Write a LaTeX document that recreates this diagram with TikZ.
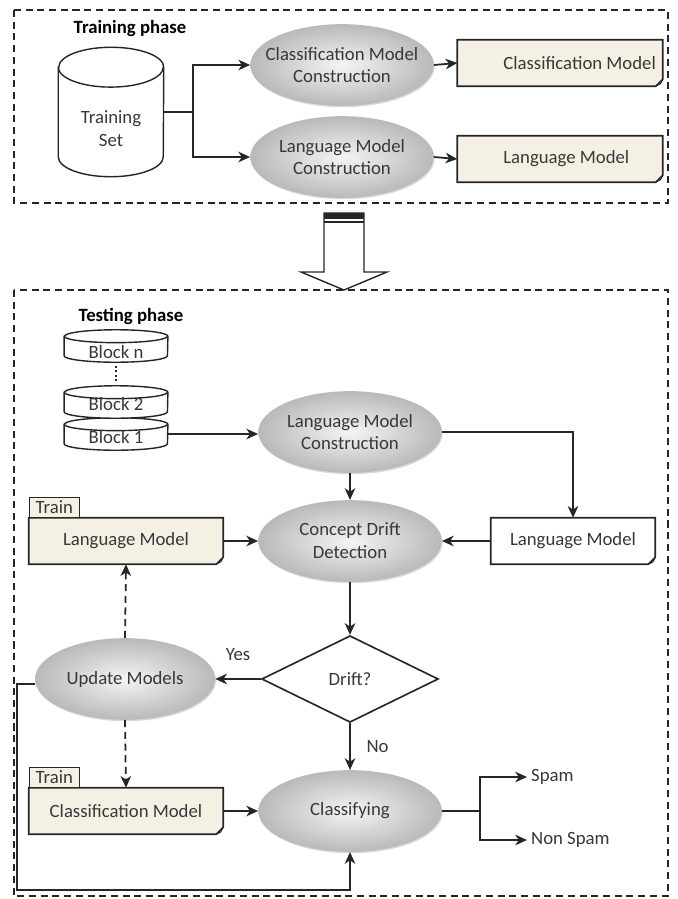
\documentclass[tikz,border=0pt]{standalone}
\usepackage{fontspec}
\setmainfont{Carlito}
\usetikzlibrary{shapes.geometric, arrows, arrows.meta, shadows, backgrounds}
\definecolor{doccream}{HTML}{F4F1E4}
\definecolor{inkgray}{HTML}{383838}

\begin{document}
\begin{tikzpicture}[x=0.03cm, y=-0.03cm, font=\fontsize{16}{19.5}\selectfont]
% Define styles
\tikzstyle{phase} = [draw=black!85, line width=1.3pt, dash pattern=on 6pt off 4pt]
\tikzstyle{process} = [ellipse, minimum width=5.5cm, minimum height=2.45cm, inner xsep=-0.4cm, align=center, text=inkgray, inner color=gray!8, outer color=gray!55, drop shadow={opacity=0.3, shadow xshift=0.8pt, shadow yshift=-1.2pt}]
\tikzstyle{doc} = [rectangle, minimum width=6.15cm, minimum height=1.38cm, align=center, text=inkgray]
\tikzstyle{store} = [rectangle, align=center, text=inkgray, inner sep=1pt]
\tikzstyle{block} = [store, minimum width=3.1cm, minimum height=0.96cm]
\tikzstyle{decision} = [diamond, aspect=2, minimum width=5.3cm, minimum height=2.6cm, draw=black!85, line width=1.4pt, fill=white, text=inkgray]
\tikzstyle{tab} = [rectangle, draw=black!85, line width=1pt, fill=doccream, minimum width=1.5cm, minimum height=0.6cm, inner sep=1pt, anchor=south west, text=inkgray]
\tikzstyle{line} = [line width=1.5pt, draw=black!85]
\tikzstyle{arrow} = [line, ->, >={Stealth[length=10pt, width=9pt, inset=3pt]}]
\tikzstyle{update} = [arrow, dash pattern=on 6pt off 4pt]
\useasboundingbox (0,0) rectangle (678,899);
% Phase frames
\draw [phase] (14,10) rectangle (668,203);
\draw [phase] (14,290) rectangle (668,896);
% Place nodes
\node (trainlbl) at (130,29) {\bfseries Training phase};
\node (tset) [store, minimum width=3.15cm, minimum height=3.87cm, label={[text=inkgray, align=center, yshift=-0.5cm]center:Training\\Set}] at (111,112) {};
\node (cmc) [process] at (342,65) {Classification Model\\Construction};
\node (lmc) [process] at (342,157) {Language Model\\Construction};
\node (cm) [doc] at (560,63) {\makebox[3.4cm][l]{Classification Model}};
\node (lm) [doc] at (560,159) {\makebox[3.4cm][l]{Language Model}};
\node (testlbl) at (131,316) {\bfseries Testing phase};
\node (bn) [block] at (116,346) {\raisebox{-5pt}[\height][\depth]{Block n}};
\node (b1) [block] at (116,434) {\raisebox{-3pt}[\height][\depth]{Block 1}};
\node (b2) [block] at (116,402) {\raisebox{-2pt}[\height][\depth]{Block 2}};
\node (lmc2) [process] at (350,432) {Language Model\\Construction};
\node (cdd) [process] at (350,541) {Concept Drift\\Detection};
\node (lmr) [doc, minimum width=4.92cm] at (573,541) {Language Model};
\node (lmt) [doc, minimum width=5.82cm] at (126,541) {Language Model};
\node (tab1) [tab] at (lmt.north west) {Train};
\node (drift) [decision] at (350,679) {Drift?};
\node (um) [process, minimum width=5.4cm] at (125,679) {Update Models};
\node (cls) [process] at (350,811) {Classifying};
\node (cmt) [doc, minimum width=5.82cm] at (126,811) {Classification Model};
\node (tab2) [tab] at (cmt.north west) {Train};
\node (spam) [anchor=west, text=inkgray] at (527,777) {Spam};
\node (nspam) [anchor=west, text=inkgray] at (527,840) {Non Spam};
\coordinate (split) at (480,811);
\coordinate (loop) at (17,890);
% Document and store outlines
\begin{scope}[on background layer]
\foreach \d/\c in {cm/doccream, lm/doccream, lmr/white, lmt/doccream, cmt/doccream}
{
  \filldraw [fill=\c, draw=black!85, line width=1.4pt] (\d.north west) -- (\d.north east) -- ([yshift=6pt]\d.south east) -- ([xshift=-6pt]\d.south east) -- (\d.south west) -- cycle;
  \draw [black!85, line width=0.8pt] ([yshift=6pt]\d.south east) -- ([xshift=-2pt, yshift=2pt]\d.south east) -- ([xshift=-6pt]\d.south east);
}
\foreach \n/\w/\r in {tset/1.575cm/17pt, bn/1.55cm/5.5pt, b1/1.55cm/5.5pt, b2/1.55cm/5.5pt}
{
  \filldraw [fill=white, draw=black!85, line width=1.2pt] ([yshift=-\r]\n.north west) -- ([yshift=\r]\n.south west) arc [start angle=180, end angle=360, x radius=\w, y radius=\r] -- ([yshift=-\r]\n.north east) arc [start angle=0, end angle=180, x radius=\w, y radius=\r] -- cycle;
  \draw [black!85, line width=1.2pt] ([yshift=-\r]\n.north west) arc [start angle=180, end angle=360, x radius=\w, y radius=\r];
}
\end{scope}
% Hand-over arrow
\filldraw [fill=white, draw=black!85, line width=1.2pt] (324,213) -- (364,213) -- (364,272) -- (387,272) -- (344,290) -- (301,272) -- (324,272) -- cycle;
\fill [black!85] (324,213) rectangle (364,219);
\draw [black!85, line width=1.2pt] (324,222) -- (364,222);
% Draw arrows
\draw [line] (tset.east) -- ++(29,0) coordinate (fork);
\draw [arrow] (fork) |- (cmc.west);
\draw [arrow] (fork) |- (lmc.west);
\draw [arrow] (cmc.east) -- (cm.west);
\draw [arrow] (lmc.east) -- (lm.west);
\draw [dotted, line width=1.8pt, black!85] ([yshift=-3pt]bn.south) -- ([yshift=3pt]b2.north);
\draw [arrow] (b1.east) -- (b1.east -| lmc2.west);
\draw [arrow] (lmc2.east) -| (lmr.north);
\draw [arrow] (lmc2.south) -- (cdd.north);
\draw [arrow] (lmr.west) -- (cdd.east);
\draw [arrow] (lmt.east) -- (cdd.west);
\draw [arrow] (cdd.south) -- (drift.north);
\draw [arrow] (drift.west) -- node[above=12pt, text=inkgray] {Yes} (um.east);
\draw [arrow] (drift.south) -- node[right=10pt, text=inkgray] {No} (cls.north);
\draw [update] (um.north) -- (lmt.south);
\draw [update] (um.south) -- (cmt.north);
\draw [arrow] (cmt.east) -- (cls.west);
\draw [line] (cls.east) -- (split);
\draw [arrow] (split) |- (spam.west);
\draw [arrow] (split) |- (nspam.west);
\draw [arrow] ([yshift=-4pt]um.west) -| (loop) -| (cls.south);
\end{tikzpicture}
\end{document}
